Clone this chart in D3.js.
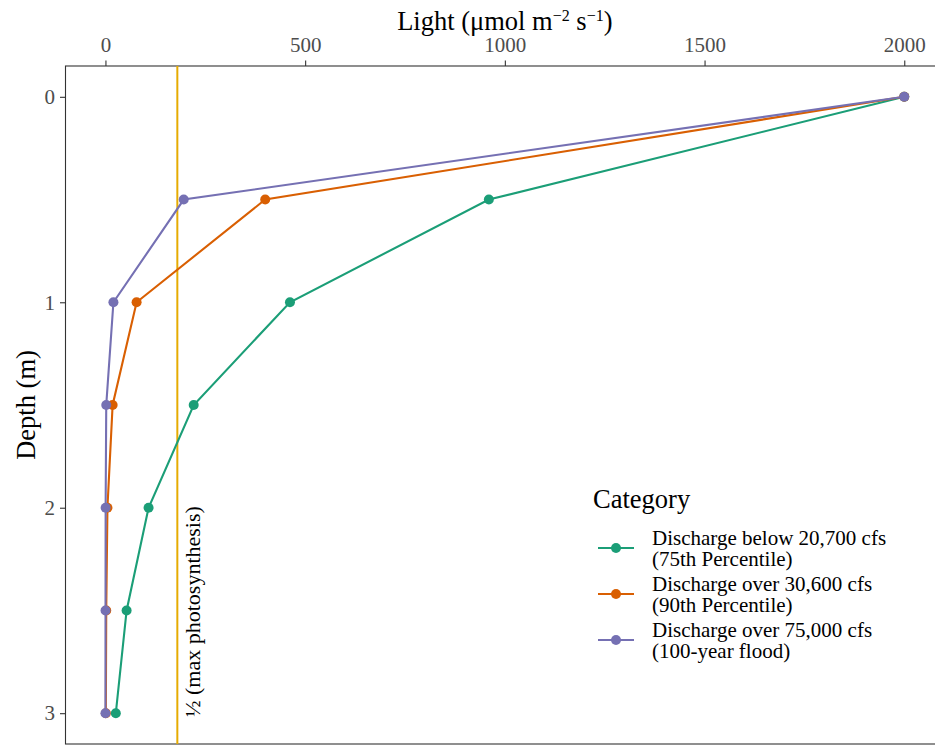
<!DOCTYPE html>
<html><head><meta charset="utf-8">
<script src="https://cdn.jsdelivr.net/npm/d3@7"></script>
<style>body{margin:0;background:#fff}svg{display:block;font-family:"Liberation Serif","Times New Roman",serif}</style>
</head><body>
<svg id="c" width="935" height="746"></svg>
<script>
const depths = [0, 0.5, 1, 1.5, 2, 2.5, 3];
const lightBelow20700 = [2000, 960, 462, 221, 108, 53, 26];
const lightOver30600 = [2000, 400, 78, 18, 5, 2, 1];
const lightOver75000 = [2000, 196, 20, 2, 0.5, 0.2, 0];
const seriesNames = [["Discharge below 20,700 cfs", "(75th Percentile)"], ["Discharge over 30,600 cfs", "(90th Percentile)"], ["Discharge over 75,000 cfs", "(100-year flood)"]];
const seriesColors = ["#1b9e77", "#d95f02", "#7570b3"];
const halfMax = 180;
const xTicks = [0, 500, 1000, 1500, 2000];
const yTicks = [0, 1, 2, 3];

const svg = d3.select("#c");
const L = 65.5, T = 66, B = 744, R = 944.2;
const x = d3.scaleLinear().domain([-100, 2100]).range([L, R]);
const y = d3.scaleLinear().domain([-0.15, 3.15]).range([T, B]);

// panel border
svg.append("rect").attr("x", L).attr("y", T).attr("width", R - L).attr("height", B - T)
  .attr("fill", "none").attr("stroke", "#333").attr("stroke-width", 1.1);

// axes
const xa = svg.append("g").attr("transform", `translate(0,${T})`)
  .call(d3.axisTop(x).tickValues(xTicks).tickSize(5.5).tickPadding(9).tickFormat(d3.format("d")));
const ya = svg.append("g").attr("transform", `translate(${L},0)`)
  .call(d3.axisLeft(y).tickValues(yTicks).tickSize(5.5).tickPadding(5).tickFormat(d3.format("d")));
[xa, ya].forEach(a => {
  a.select(".domain").remove();
  a.selectAll(".tick line").attr("stroke", "#333").attr("stroke-width", 1.1);
  a.selectAll(".tick text").attr("fill", "#4d4d4d").style("font-size", "21px").style("font-family", "Liberation Serif, serif");
});

// axis titles
svg.append("text").attr("x", (L + R) / 2).attr("y", 30).attr("text-anchor", "middle")
  .style("font-size", "26.5px").attr("fill", "#000")
  .html('Light (μmol m<tspan dy="-9" font-size="16">−2</tspan><tspan dy="9"> s</tspan><tspan dy="-9" font-size="16">−1</tspan><tspan dy="9">)</tspan>');
svg.append("text").attr("transform", `translate(35,${(T + B) / 2}) rotate(-90)`)
  .attr("text-anchor", "middle").style("font-size", "26.5px").attr("fill", "#000").text("Depth (m)");

// vertical reference line
svg.append("line").attr("x1", x(halfMax)).attr("x2", x(halfMax)).attr("y1", T).attr("y2", B)
  .attr("stroke", "#e6ab02").attr("stroke-width", 2);
svg.append("text").attr("transform", `translate(${x(halfMax) + 23},717) rotate(-90)`)
  .attr("text-anchor", "start").style("font-size", "22px").attr("fill", "#000").text("½ (max photosynthesis)");

// series
const allSeries = [lightBelow20700, lightOver30600, lightOver75000];
const line = d3.line().x(d => x(d[0])).y(d => y(d[1]));
allSeries.forEach((vals, i) => {
  const pts = vals.map((v, j) => [v, depths[j]]);
  svg.append("path").attr("d", line(pts)).attr("fill", "none")
    .attr("stroke", seriesColors[i]).attr("stroke-width", 2.1);
  svg.append("g").selectAll("circle").data(pts).join("circle")
    .attr("cx", d => x(d[0])).attr("cy", d => y(d[1])).attr("r", 5).attr("fill", seriesColors[i]);
});

// legend
const lg = svg.append("g");
lg.append("text").attr("x", 593).attr("y", 508).style("font-size", "26.5px").attr("fill", "#000").text("Category");
seriesNames.forEach((nm, i) => {
  const cy = 548 + i * 46;
  lg.append("line").attr("x1", 598).attr("x2", 634).attr("y1", cy).attr("y2", cy)
    .attr("stroke", seriesColors[i]).attr("stroke-width", 2.1);
  lg.append("circle").attr("cx", 616).attr("cy", cy).attr("r", 5).attr("fill", seriesColors[i]);
  nm.forEach((t, k) => {
    lg.append("text").attr("x", 652).attr("y", cy - 3 + k * 21).style("font-size", "21px")
      .attr("fill", "#000").text(t);
  });
});
</script>
</body></html>
